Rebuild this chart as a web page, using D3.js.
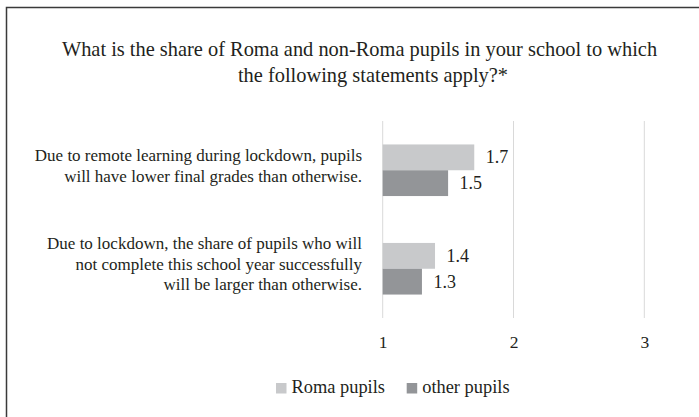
<!DOCTYPE html>
<html>
<head>
<meta charset="utf-8">
<script src="https://cdn.jsdelivr.net/npm/d3@7"></script>
<style>
  html, body { margin: 0; padding: 0; background: #fff; }
  svg { display: block; }
  svg text { font-family: 'Liberation Serif', 'DejaVu Serif', 'Noto Serif', serif; fill: #231f20; }
</style>
</head>
<body>
<svg id="chart" width="699" height="417"></svg>
<script>
// Survey items (multi-line labels), series and values
const categories = [
  ["Due to remote learning during lockdown, pupils", "will have lower final grades than otherwise."],
  ["Due to lockdown, the share of pupils who will", "not complete this school year successfully", "will be larger than otherwise."]
];
const seriesNames = ["Roma pupils", "other pupils"];
const romaValues = [1.7, 1.4];
const otherValues = [1.5, 1.3];
const tickValues = [1, 2, 3];
const titleLines = [
  "What is the share of Roma and non-Roma pupils in your school to which",
  "the following statements apply?*"
];

const colors = ["#c8c9cb", "#939598"];
const seriesValues = [romaValues, otherValues];
const FONT = "'Liberation Serif', 'DejaVu Serif', 'Noto Serif', serif";

const svg = d3.select("#chart").style("font-family", FONT);

// Frame
svg.append("path")
  .attr("d", "M6.5,417 V7.5 H699")
  .attr("fill", "none")
  .attr("stroke", "#3a3a3a")
  .attr("stroke-width", 1.5);

// Title
const titleX = [359.5, 373];
svg.append("g").selectAll("text")
  .data(titleLines)
  .join("text")
  .attr("x", (d, i) => titleX[i])
  .attr("y", (d, i) => 56 + i * 25.5)
  .attr("text-anchor", "middle")
  .style("font-family", FONT)
  .attr("font-size", 20.4)
  .text(d => d);

// Scales
const x = d3.scaleLinear().domain([1, 3]).range([382.7, 644.3]);
const catIdx = categories.map((d, i) => i);
const y = d3.scaleBand().domain(catIdx).range([121, 318]).padding(0);
const step = y.bandwidth();
const groupH = 51.6;
const ySeries = d3.scaleBand()
  .domain(d3.range(seriesNames.length))
  .range([(step - groupH) / 2, (step + groupH) / 2])
  .padding(0);

// Vertical gridlines
svg.append("g").selectAll("line")
  .data(tickValues)
  .join("line")
  .attr("x1", d => x(d)).attr("x2", d => x(d))
  .attr("y1", 121).attr("y2", 318)
  .attr("stroke", "#d9d9d9")
  .attr("stroke-width", 1);

// X axis tick labels
const xAxis = d3.axisBottom(x).tickValues(tickValues).tickFormat(d3.format("d")).tickSize(0).tickPadding(0);
const gx = svg.append("g").attr("transform", "translate(0,336)").call(xAxis);
gx.attr("font-family", null);
gx.select(".domain").remove();
gx.selectAll("text")
  .attr("font-size", 17.5)
  .style("font-family", FONT)
  .attr("fill", "#231f20");

// Bars and value labels
categories.forEach((cat, ci) => {
  const g = svg.append("g").attr("transform", `translate(0,${y(ci)})`);
  seriesNames.forEach((s, si) => {
    const v = seriesValues[si][ci];
    g.append("rect")
      .attr("x", x(1))
      .attr("y", ySeries(si))
      .attr("width", x(v) - x(1))
      .attr("height", ySeries.bandwidth())
      .attr("fill", colors[si]);
    g.append("text")
      .attr("x", x(v) + 11.5)
      .attr("y", ySeries(si) + ySeries.bandwidth() / 2 + 6)
      .attr("font-size", 18)
      .style("font-family", FONT)
      .text(d3.format(".1f")(v));
  });
  // Category label lines, right-aligned
  const n = cat.length;
  g.append("g").selectAll("text")
    .data(cat)
    .join("text")
    .attr("x", 362)
    .attr("y", (d, i) => step / 2 + (i - (n - 1) / 2) * 20.5 + 1)
    .attr("text-anchor", "end")
    .attr("font-size", 17)
    .style("font-family", FONT)
    .text(d => d);
});

// Legend
const legend = svg.append("g");
const legendX = [276, 406.7];
seriesNames.forEach((s, i) => {
  legend.append("rect")
    .attr("x", legendX[i]).attr("y", 383)
    .attr("width", 10.5).attr("height", 10.5)
    .attr("fill", colors[i]);
  legend.append("text")
    .attr("x", legendX[i] + 15.5).attr("y", 392.5)
    .attr("font-size", 18.4)
    .style("font-family", FONT)
    .text(s);
});
</script>
</body>
</html>
